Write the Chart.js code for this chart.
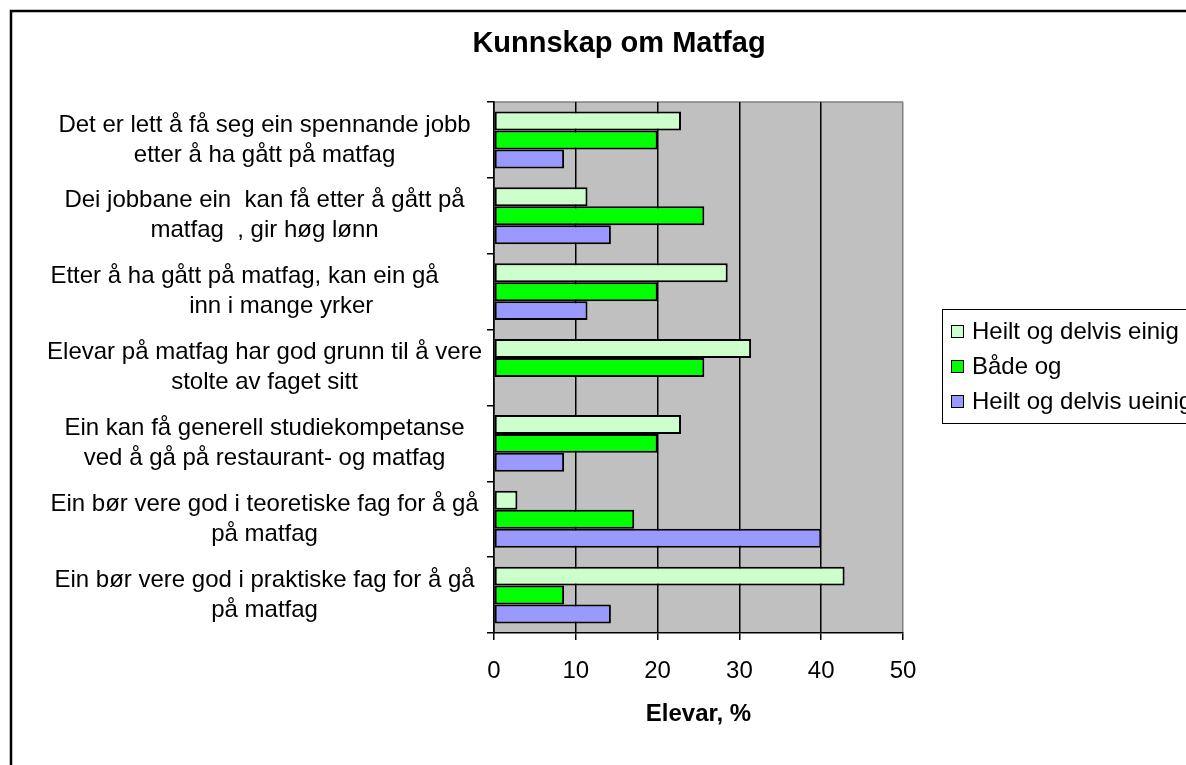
<!DOCTYPE html>
<html>
<head>
<meta charset="utf-8">
<title>Kunnskap om Matfag</title>
<script src="https://cdn.jsdelivr.net/npm/chart.js@4"></script>
<style>
  html, body { margin: 0; padding: 0; background: #fff; overflow: hidden; }
  #wrap { position: relative; width: 1186px; height: 765px; }
</style>
</head>
<body>
<div id="wrap"><canvas id="bar-chart"></canvas></div>
<script>
//statements, top to bottom (line breaks as in the original)
var statements = [
  ["Det er lett å få seg ein spennande jobb", "etter å ha gått på matfag"],
  ["Dei jobbane ein  kan få etter å gått på", "matfag  , gir høg lønn"],
  ["Etter å ha gått på matfag, kan ein gå      ", "     inn i mange yrker"],
  ["Elevar på matfag har god grunn til å vere", "stolte av faget sitt"],
  ["Ein kan få generell studiekompetanse", "ved å gå på restaurant- og matfag"],
  ["Ein bør vere god i teoretiske fag for å gå", "på matfag"],
  ["Ein bør vere god i praktiske fag for å gå", "på matfag"]
];
//percent of students
var agree    = [22.86, 11.43, 28.57, 31.43, 22.86, 2.86, 42.86];
var neutral  = [20, 25.71, 20, 25.71, 20, 17.14, 8.57];
var disagree = [8.57, 14.29, 11.43, 0, 8.57, 40, 14.29];
var seriesNames = ["Heilt og delvis einig", "Både og", "Heilt og delvis ueinig"];
var xTicks = [0, 10, 20, 30, 40, 50];
var chartTitle = "Kunnskap om Matfag";
var axisTitle = "Elevar, %";

var fontFamily = "'Liberation Sans', Arial, sans-serif";
Chart.defaults.font.family = fontFamily;
Chart.defaults.color = '#000';

//background, frame, title and boxed legend
var decor = {
  id: 'decor',
  beforeDraw: function(chart) {
    var ctx = chart.ctx, a = chart.chartArea;
    ctx.save();
    ctx.fillStyle = '#fff';
    ctx.fillRect(0, 0, chart.width, chart.height);
    ctx.strokeStyle = '#000';
    ctx.lineWidth = 2.5;
    ctx.strokeRect(11, 11, chart.width + 50, chart.height + 50);
    ctx.fillStyle = '#c0c0c0';
    ctx.fillRect(a.left, a.top, a.right - a.left, a.bottom - a.top);
    ctx.strokeStyle = '#808080';
    ctx.lineWidth = 1.5;
    ctx.beginPath();
    ctx.moveTo(a.left, a.top);
    ctx.lineTo(a.right, a.top);
    ctx.stroke();
    ctx.restore();
  },
  afterDraw: function(chart) {
    var ctx = chart.ctx;
    ctx.save();
    ctx.fillStyle = '#000';
    ctx.textAlign = 'center';
    ctx.textBaseline = 'middle';
    ctx.font = 'bold 29px ' + fontFamily;
    ctx.fillText(chartTitle, 619, 44);

    //legend
    ctx.strokeStyle = '#000';
    ctx.lineWidth = 1;
    ctx.strokeRect(942.5, 309.5, 300, 114);
    ctx.font = '24px ' + fontFamily;
    ctx.textAlign = 'left';
    chart.data.datasets.forEach(function(ds, i) {
      var y = 331 + i * 35;
      ctx.fillStyle = ds.backgroundColor;
      ctx.fillRect(951, y - 6, 13, 13);
      ctx.strokeRect(951.5, y - 5.5, 12, 12);
      ctx.fillStyle = '#000';
      ctx.fillText(ds.label, 972, y + 1);
    });
    ctx.restore();
  }
};

var chart = new Chart(document.getElementById("bar-chart"), {
  type: 'bar',
  data: {
    labels: statements,
    datasets: [
      { label: seriesNames[0], data: agree, backgroundColor: '#ccffcc' },
      { label: seriesNames[1], data: neutral, backgroundColor: '#00ff00' },
      { label: seriesNames[2], data: disagree, backgroundColor: '#9999ff' }
    ]
  },
  options: {
    indexAxis: 'y',
    responsive: true,
    maintainAspectRatio: false,
    animation: false,
    layout: { padding: { top: 102, right: 283, bottom: 0, left: 0 } },
    datasets: {
      bar: {
        borderColor: '#000',
        borderWidth: 2,
        borderSkipped: false,
        categoryPercentage: 0.75,
        barPercentage: 1
      }
    },
    plugins: {
      legend: { display: false },
      title: { display: false },
      tooltip: { enabled: false }
    },
    scales: {
      x: {
        min: xTicks[0],
        max: xTicks[xTicks.length - 1],
        afterBuildTicks: function(scale) {
          scale.ticks = xTicks.map(function(v) { return { value: v }; });
        },
        afterFit: function(scale) { scale.height = 132; },
        grid: {
          color: function(c) { return c.tick && c.tick.value === 50 ? '#808080' : '#000'; },
          lineWidth: 1.5,
          tickLength: 7,
          tickColor: '#000'
        },
        border: { color: '#000', width: 1.5 },
        ticks: { font: { size: 24 }, padding: 17, maxRotation: 0 },
        title: {
          display: true,
          text: axisTitle,
          font: { size: 24, weight: 'bold' },
          padding: { top: 0, bottom: 36 }
        }
      },
      y: {
        afterFit: function(scale) { scale.width = 494; },
        grid: {
          drawOnChartArea: false,
          tickLength: 7,
          tickColor: '#000',
          lineWidth: 1.5
        },
        border: { color: '#000', width: 1.5 },
        ticks: {
          font: { size: 24, lineHeight: 1.25 },
          crossAlign: 'center',
          padding: 5,
          autoSkip: false
        }
      }
    }
  },
  plugins: [decor]
});
</script>
</body>
</html>
